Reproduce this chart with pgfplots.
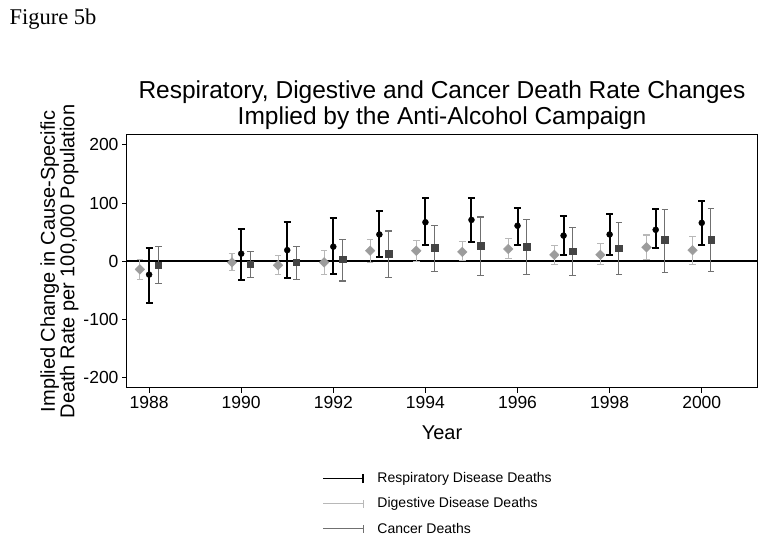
\documentclass[border=0pt]{standalone}
\usepackage{fontspec}
\setmainfont{Liberation Sans}
\newfontfamily\timesfont{Liberation Serif}
\usepackage{pgfplots}
\usepackage{pgfplotstable}
\pgfplotsset{compat=1.18}
\definecolor{diggray}{HTML}{9C9C9C}
\definecolor{digbar}{HTML}{B8B8B8}
\definecolor{cangray}{HTML}{444444}
\definecolor{canbar}{HTML}{707070}

\pgfplotstableread{
x y lo hi
1988 -23 -71 23
1990 13 -32 55
1991 19 -29 67
1992 25 -22 74
1993 46 7 86
1994 67 28 108
1995 71 33 108
1996 61 28 92
1997 44 11 77
1998 46 10 81
1999 54 22 89
2000 66 28 103
}\resp
\pgfplotstableread{
x y lo hi
1987.8 -14 -31 3
1989.8 -2 -16 13
1990.8 -7 -23 10
1991.8 -2 -23 18
1992.8 18 -2 37
1993.8 18 0 35
1994.8 16 1 34
1995.8 21 5 39
1996.8 11 -5 27
1997.8 11 -6 31
1998.8 24 3 45
1999.8 19 -5 43
}\dig
\pgfplotstableread{
x y lo hi
1988.2 -7 -39 26
1990.2 -5 -28 16
1991.2 -2 -31 26
1992.2 3 -34 38
1993.2 13 -28 52
1994.2 23 -17 62
1995.2 27 -25 76
1996.2 25 -23 71
1997.2 17 -25 58
1998.2 22 -23 67
1999.2 37 -20 89
2000.2 37 -18 91
}\cancer

\begin{document}
\begin{tikzpicture}[x=1pt,y=1pt]
\path[use as bounding box] (-127,-150) rectangle (637,388);
\node[anchor=base west, font=\timesfont\fontsize{22.5}{24}\selectfont] at (-121,363) {Figure 5b};
\begin{axis}[
  at={(0,0)}, anchor=south west,
  scale only axis,
  width=630pt, height=253pt,
  xmin=1987.52, xmax=2001.2,
  ymin=-218, ymax=217,
  xtick={1988,1990,...,2000},
  ytick={-200,-100,0,100,200},
  xtick pos=bottom, ytick pos=left,
  tick align=outside,
  major tick length=5pt,
  every tick/.style={black, line width=0.8pt},
  axis line style={black, line width=1pt},
  /pgf/number format/assume math mode=true,
  x tick label style={/pgf/number format/1000 sep={}},
  tick label style={font=\fontsize{17.5}{17.5}\selectfont},
  xlabel={Year},
  ylabel={Implied Change in Cause-Specific\\Death Rate per 100,000 Population},
  label style={font=\fontsize{20}{18.5}\selectfont, align=center},
  ylabel style={yshift=-2pt},
  xlabel style={yshift=-10pt},
  title={Respiratory, Digestive and Cancer Death Rate Changes\\Implied by the Anti-Alcohol Campaign},
  title style={font=\fontsize{24.5}{25.5}\selectfont, align=center, yshift=-4pt},
  legend style={at={(0.3095,-0.328)}, anchor=north west, draw=none, fill=none,
    font=\fontsize{14}{14}\selectfont, row sep=10.5pt, column sep=12pt, inner sep=0pt,
    nodes={inner sep=1.5pt}},
  legend cell align=left,
  clip=false,
]
\addplot[black, line width=1.6pt, forget plot] coordinates {(1987.52,0) (2001.2,0)};

\addplot[only marks, mark=square*, mark size=3.4pt, mark options={rotate=45}, diggray, forget plot,
  error bars/.cd, y dir=both, y explicit,
  error bar style={digbar, line width=1.1pt},
  error mark options={digbar, line width=1.1pt, mark size=3.3pt, rotate=90}]
  table[x=x, y=y, y error plus expr=\thisrow{hi}-\thisrow{y}, y error minus expr=\thisrow{y}-\thisrow{lo}] {\dig};

\addplot[only marks, mark=*, mark size=3pt, black, forget plot,
  error bars/.cd, y dir=both, y explicit,
  error bar style={black, line width=2pt},
  error mark options={black, line width=2pt, mark size=3.6pt, rotate=90}]
  table[x=x, y=y, y error plus expr=\thisrow{hi}-\thisrow{y}, y error minus expr=\thisrow{y}-\thisrow{lo}] {\resp};

\addplot[only marks, mark=square*, mark size=3.2pt, cangray, forget plot,
  error bars/.cd, y dir=both, y explicit,
  error bar style={canbar, line width=1.1pt},
  error mark options={canbar, line width=1.1pt, mark size=3.3pt, rotate=90}]
  table[x=x, y=y, y error plus expr=\thisrow{hi}-\thisrow{y}, y error minus expr=\thisrow{y}-\thisrow{lo}] {\cancer};

\addlegendimage{legend image code/.code={\draw[black,line width=1.8pt] (0pt,0pt)--(40pt,0pt); \draw[black,line width=1.8pt] (40pt,-4.5pt)--(40pt,4.5pt);}}
\addlegendentry{Respiratory Disease Deaths}
\addlegendimage{legend image code/.code={\draw[digbar,line width=1pt] (0pt,0pt)--(40pt,0pt); \draw[digbar,line width=1pt] (40pt,-4pt)--(40pt,4pt);}}
\addlegendentry{Digestive Disease Deaths}
\addlegendimage{legend image code/.code={\draw[canbar,line width=1pt] (0pt,0pt)--(40pt,0pt); \draw[canbar,line width=1pt] (40pt,-4pt)--(40pt,4pt);}}
\addlegendentry{Cancer Deaths}
\end{axis}
\end{tikzpicture}
\end{document}
